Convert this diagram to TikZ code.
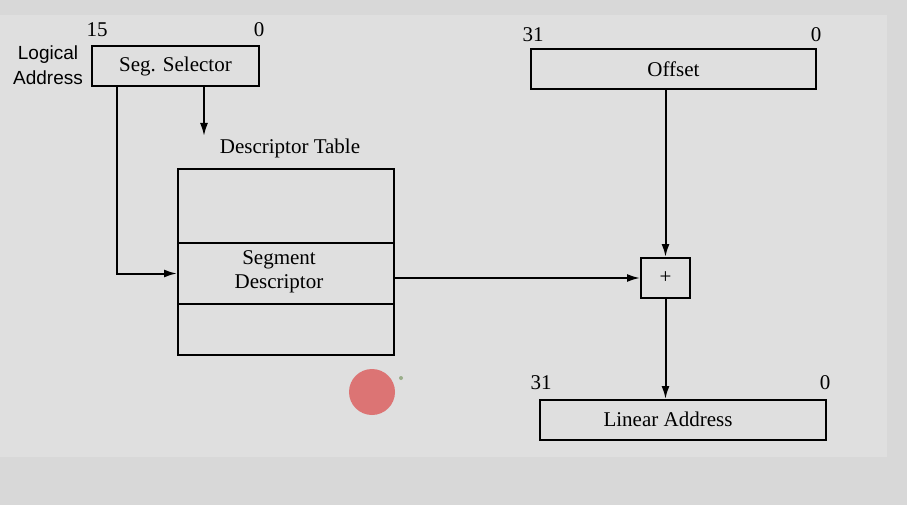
\documentclass[tikz,border=0pt]{standalone}
\usepackage{fontspec}
\setmainfont{Liberation Serif}
\newfontfamily\labelsans{Liberation Sans}
\usetikzlibrary{arrows.meta,positioning}
\definecolor{outergrey}{HTML}{D8D8D8}
\definecolor{innergrey}{HTML}{DFDFDF}
\definecolor{pointerred}{HTML}{DC7474}
\definecolor{pointergreen}{HTML}{9AAE8A}

\begin{document}
\begin{tikzpicture}[x=1pt,y=-1pt,line width=2pt,>={Latex[length=13pt,width=8pt]},
  font=\fontsize{21}{24}\selectfont,
  regbox/.style={draw,inner sep=0pt},
  wire/.style={->},
  bitno/.style={inner sep=0pt}]
%%Background
\fill[outergrey] (0,0) rectangle (907,505);
\fill[innergrey] (0,15) rectangle (887,457);
\useasboundingbox (0,0) rectangle (907,505);

%%Registers
\node[regbox,minimum width=167,minimum height=40] (sel) at (175.5,66.5) {Seg. Selector};
\node[regbox,minimum width=285,minimum height=40] (off) at (673.5,69) {Offset};
\node[regbox,minimum width=286,minimum height=40] (lin) at (683,420) {};
\node[inner sep=0pt] (linname) at (668,419) {Linear Address};
\node[regbox,minimum width=49,minimum height=40] (plus) at (665.5,278) {+};

%%Descriptor table
\node[regbox,minimum width=216,minimum height=74] (top) at (286,206) {};
\node[regbox,minimum width=216,minimum height=61] (segdesc) at (286,273.5) {};
\node[regbox,minimum width=216,minimum height=51] (bottom) at (286,329.5) {};
\node[align=center,inner sep=0pt] (segname) at (279,272) {Segment\\Descriptor};
\node (tabname) at (290,148) {Descriptor Table};

%%Labels
\node[align=center,inner sep=0pt,font=\labelsans\fontsize{19}{25}\selectfont] (logical) at (48,65) {Logical\\Address};
\node[bitno] (selhi) at (97,30) {15};
\node[bitno] (sello) at (259,30) {0};
\node[bitno] (offhi) at (533,35) {31};
\node[bitno] (offlo) at (816,35) {0};
\node[bitno] (linhi) at (541,383) {31};
\node[bitno] (linlo) at (825,383) {0};

%%Connections
\coordinate (tabin) at (204,136);
\draw[wire] ([xshift=-58.5]sel.south) |- (segdesc.west);
\draw[wire] ([xshift=28.5]sel.south) -- (tabin);
\draw[wire] (segdesc.east |- plus) -- (plus.west);
\draw[wire] (off.south -| plus) -- (plus.north);
\draw[wire] (plus.south) -- (plus.south |- lin.north);

%%Pointer
\fill[pointerred] (372,392) circle (23);
\fill[pointergreen] (401,378) circle (2);
\end{tikzpicture}
\end{document}
